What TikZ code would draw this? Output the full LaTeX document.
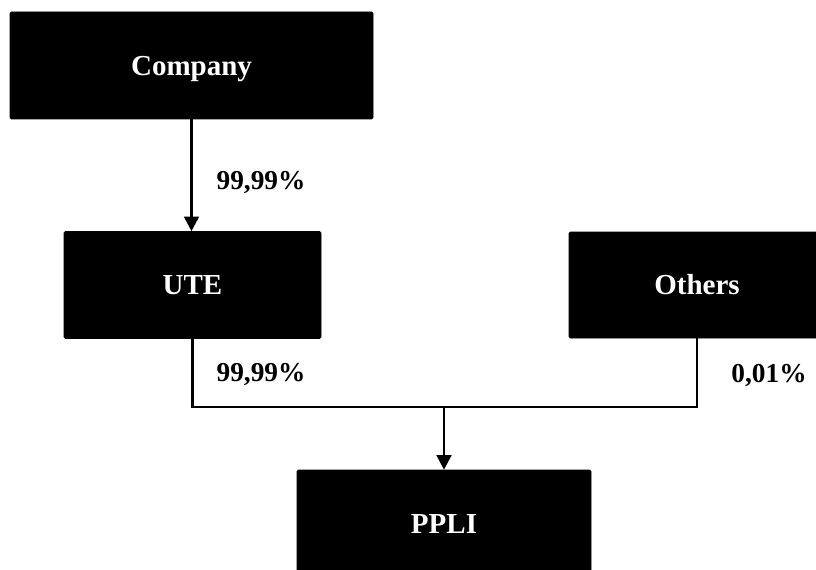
\documentclass[tikz,border=0pt]{standalone}
\usepackage{fontspec}
\setmainfont{Liberation Serif}
\usetikzlibrary{arrows.meta}
\tikzset{
  box/.style={draw=black, fill=black, rounded corners=1pt, inner sep=0pt,
    text=white, text height=14.4pt, text depth=0pt,
    font=\fontsize{21.75}{26}\selectfont\bfseries},
  pct/.style={inner sep=0pt, text height=13.6pt, text depth=0pt,
    font=\fontsize{20.5}{24}\selectfont\bfseries},
  conn/.style={draw=black, line width=2.1pt},
  arr/.style={conn, -{Triangle[width=11pt,length=11pt]}}
}
\begin{document}
\begin{tikzpicture}[x=0.75pt,y=-0.75pt]
\useasboundingbox (0,0) rectangle (816,570);
\node[box, minimum width=363*0.75pt, minimum height=107*0.75pt] (company) at (191.5,65.5) {Company};
\node[box, minimum width=257*0.75pt, minimum height=107*0.75pt] (ute) at (192.5,285) {UTE};
\node[box, minimum width=256*0.75pt, minimum height=106*0.75pt] (others) at (697,285) {Others};
\node[box, minimum width=294*0.75pt, minimum height=108*0.75pt] (ppli) at (444,524) {PPLI};
\coordinate (j) at (444,407);
\node[pct] (l1) at (261,180.5) {99,99\%};
\node[pct] (l2) at (261,372.5) {99,99\%};
\node[pct] (l3) at (769,373.5) {0,01\%};
\draw[arr] (company.south) -- (company.south |- ute.north);
\draw[conn] (ute.south) -- (ute.south |- j) -- (others.south |- j) -- (others.south);
\draw[arr] (j) -- (ppli.north);
\end{tikzpicture}
\end{document}
